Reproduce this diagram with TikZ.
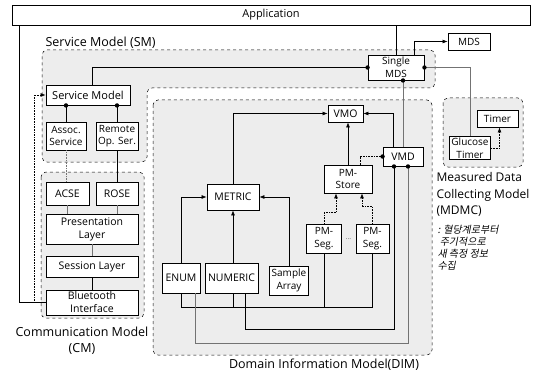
\documentclass[tikz,border=0pt]{standalone}
\usepackage{fontspec}
\setmainfont{Open Sans}
\newfontfamily\korfont[FakeSlant=0.2]{Noto Sans CJK KR}
\usetikzlibrary{arrows.meta}
\newcommand\jdot[1]{\fill (#1) circle (2.2);}

\begin{document}
\begin{tikzpicture}[
    x=1pt,
    y=-1pt,
    >={Latex[length=5pt,width=4pt]},
    font=\fontsize{10.5}{13}\selectfont,
    caja/.style={draw,fill=white,line width=0.9pt,inner sep=1pt,align=center},
    chica/.style={caja,font=\fontsize{10}{12.5}\selectfont},
    zona/.style={draw,dashed,rounded corners=5pt,fill=black!7,line width=0.5pt},
    enlace/.style={line width=0.6pt},
    tenue/.style={black!55,line width=0.6pt},
    punteado/.style={densely dotted,line width=0.6pt},
    rotulo/.style={font=\fontsize{12.5}{16}\selectfont}
]
    \useasboundingbox (0,0) rectangle (537,374);

    \path[zona] (42,50) -- (435,50) -- (435,88) -- (147,88) -- (147,162) -- (42,162) -- cycle;
    \path[zona] (41,172) rectangle (144,318);
    \path[zona] (153,100) rectangle (432,355);
    \path[zona] (443,98) rectangle (523,167);

    \node[caja,minimum width=518pt,minimum height=20pt,font=\fontsize{11}{13}\selectfont] (app) at (271,15) {Application};

    \node[caja,minimum width=84pt,minimum height=20pt,font=\fontsize{11}{13}\selectfont] (servicio) at (88,95) {Service Model};
    \node[chica,minimum width=40pt,minimum height=28pt] (asoc) at (66,136) {Assoc.\\Service};
    \node[chica,minimum width=42pt,minimum height=28pt] (remoto) at (117,136) {Remote\\Op. Ser.};
    \node[caja,minimum width=43pt,minimum height=23pt] (acse) at (67.5,193.5) {ACSE};
    \node[caja,minimum width=42pt,minimum height=23pt] (rose) at (117,193.5) {ROSE};
    \node[caja,minimum width=92pt,minimum height=30pt] (presenta) at (92,229) {Presentation\\Layer};
    \node[caja,minimum width=92pt,minimum height=21pt] (sesion) at (92,266.5) {Session Layer};
    \node[caja,minimum width=92pt,minimum height=25pt] (bluetooth) at (92,302.5) {Bluetooth\\Interface};

    \node[chica,minimum width=56pt,minimum height=25pt] (smds) at (396,67.5) {Single\\MDS};
    \node[chica,minimum width=42pt,minimum height=17pt] (mds) at (469,41.5) {MDS};
    \node[chica,minimum width=41pt,minimum height=22pt] (glucosa) at (470,148) {Glucose\\Timer};
    \node[chica,minimum width=41pt,minimum height=17pt] (timer) at (497.5,118.5) {Timer};

    \node[caja,minimum width=35pt,minimum height=17pt] (vmo) at (345.5,113.5) {VMO};
    \node[caja,minimum width=40pt,minimum height=19pt] (vmd) at (403,156.5) {VMD};
    \node[chica,minimum width=48pt,minimum height=28pt] (pmstore) at (348,179) {PM-\\Store};
    \node[caja,minimum width=52pt,minimum height=26pt] (metric) at (233,197) {METRIC};
    \node[caja,minimum width=38pt,minimum height=30pt] (enum) at (181,278) {ENUM};
    \node[caja,minimum width=53pt,minimum height=30pt] (numeric) at (231.5,278) {NUMERIC};
    \node[chica,minimum width=39pt,minimum height=29pt] (sample) at (289,280.5) {Sample\\Array};
    \node[chica,minimum width=35pt,minimum height=29pt] (pmseg1) at (324,238.5) {PM-\\Seg.};
    \node[chica,minimum width=33pt,minimum height=29pt] (pmseg2) at (372.5,238.5) {PM-\\Seg.};
    \node[font=\fontsize{7}{8}\selectfont,black!60] (puntos) at (348.5,239) {...};

    \node[rotulo,anchor=base west] (lsm) at (42,47) {Service Model (SM)};
    \node[rotulo,align=center] (lcm) at (82,341) {Communication Model\\(CM)};
    \node[rotulo] (ldim) at (324,365) {Domain Information Model(DIM)};
    \node[rotulo,align=left,anchor=north west,font=\fontsize{12}{16.5}\selectfont] (lmdmc) at (433,169) {Measured Data\\Collecting Model\\(MDMC)};
    \node[align=left,anchor=north west,font=\korfont\fontsize{10}{12}\selectfont] (nota) at (434,222)
        {: 혈당계로부터\\\ 주기적으로\\새 측정 정보\\수집};

    \draw[enlace] (smds.north) -- (smds.north |- app.south);
    \draw[enlace,->] ([xshift=18pt]smds.north) |- (mds.west);
    \draw[enlace] ([xshift=4pt]servicio.north) |- (smds.west);
    \draw[tenue] (smds.east) -| (glucosa.north);
    \draw[punteado,->] (glucosa.east) -| ([xshift=2pt]timer.south);
    \draw[tenue] ([xshift=7pt]smds.south) -- (vmd.north);
    \jdot{smds.west}
    \jdot{smds.east}
    \jdot{[xshift=7pt]smds.south}

    \draw[enlace,->] ([xshift=-10pt]vmd.north) |- (vmo.east);
    \draw[punteado] (vmd.west) -| ([xshift=12pt]pmstore.north);
    \jdot{vmd.west}
    \draw[enlace,->] (pmstore.north) -- (pmstore.north |- vmo.south);
    \draw[enlace,->] (metric.north) |- (vmo.west);
    \draw[enlace,->] (enum.north) |- (metric.west);
    \draw[enlace,->] (metric.south |- numeric.north) -- (metric.south);
    \draw[enlace,->] (sample.north) |- (metric.east);
    \draw[punteado,->] (pmseg1.north) -- ++(0,-11) -| ([xshift=-12pt]pmstore.south);
    \draw[punteado,->] (pmseg2.north) -- ++(0,-17) -| ([xshift=14pt]pmstore.south);

    \coordinate (bus) at (181,307);
    \draw[enlace] (enum.south) -- (bus) -| (pmseg2.south);
    \draw[enlace] ([xshift=2pt]numeric.south) -- ([xshift=2pt]numeric.south |- bus);
    \draw[enlace] (pmseg1.south) -- (pmseg1.south |- bus);
    \draw[enlace] ([xshift=14pt]numeric.south) -- ++(0,36) -| ([xshift=-9pt]vmd.south);
    \draw[tenue] ([xshift=14pt]enum.south) -- ++(0,50) -| ([xshift=5pt]vmd.south);
    \jdot{[xshift=-9pt]vmd.south}
    \jdot{[xshift=5pt]vmd.south}

    \draw[enlace] (bluetooth.west) -| ([xshift=8pt]app.south west);
    \draw[punteado,->] (bluetooth.west) -- ++(-11,0) |- (servicio.west);
    \draw[enlace] (asoc.north) -- (asoc.north |- servicio.south);
    \draw[enlace] (remoto.north) -- (remoto.north |- servicio.south);
    \jdot{asoc.north |- servicio.south}
    \jdot{remoto.north |- servicio.south}
    \draw[tenue,densely dotted] (asoc.south) -- (asoc.south |- acse.north);
    \draw[enlace] (remoto.south) -- (remoto.south |- rose.north);
    \draw[tenue] (acse.south) -- (acse.south |- presenta.north);
    \draw[tenue] (rose.south) -- (rose.south |- presenta.north);
    \draw[tenue] (presenta.south) -- (sesion.north);
    \draw[enlace] (sesion.south) -- (bluetooth.north);
\end{tikzpicture}
\end{document}
